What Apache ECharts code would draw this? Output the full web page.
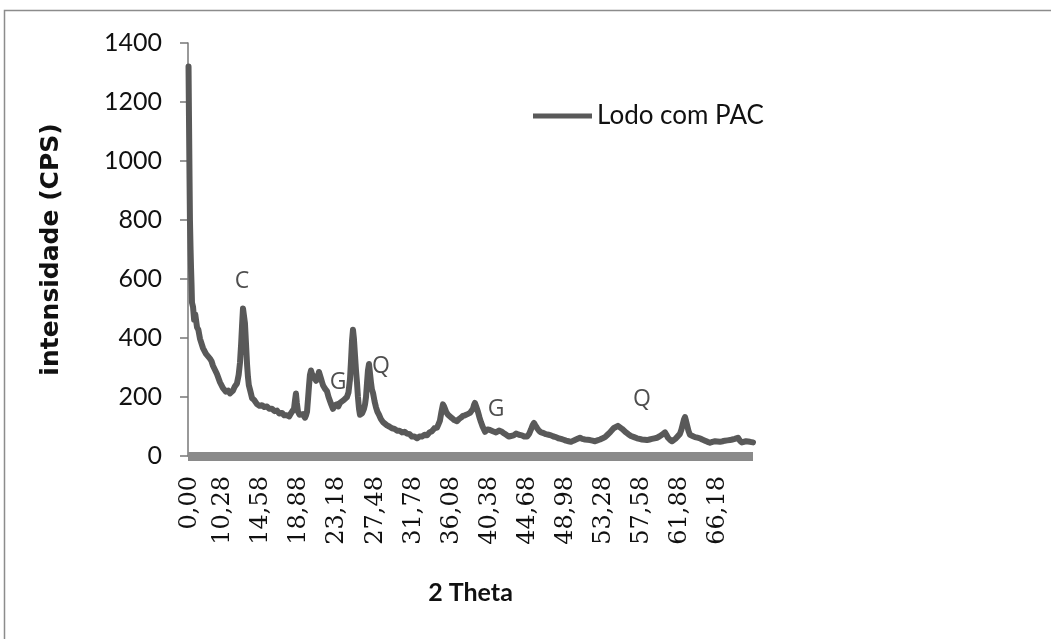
<!DOCTYPE html>
<html>
<head>
<meta charset="utf-8">
<script src="https://cdn.jsdelivr.net/npm/echarts@6/dist/echarts.min.js"></script>
<style>
  html, body { margin: 0; padding: 0; background: #ffffff; }
  #chart { width: 1051px; height: 639px; }
</style>
</head>
<body>
<div id="chart"></div>
<script>
// Diffractogram of the sludge sample (2θ in degrees, intensity in CPS)
const seriesName = 'Lodo com PAC';

const twoTheta = [
  6.39, 6.44, 6.50, 6.55, 6.62, 6.67, 6.73, 6.78, 6.90, 7.02, 7.15, 7.35, 7.50, 7.68, 7.85, 8.02,
  8.18, 8.36, 8.55, 8.81, 8.98, 9.15, 9.35, 9.60, 9.78, 9.94, 10.10, 10.28, 10.45, 10.62, 10.85, 11.07,
  11.25, 11.41, 11.62, 11.86, 12.05, 12.20, 12.33, 12.43, 12.54, 12.65, 12.76, 12.88, 13.00, 13.10, 13.20, 13.33,
  13.45, 13.56, 13.80, 14.12, 14.40, 14.68, 14.95, 15.25, 15.50, 15.81, 16.10, 16.38, 16.65, 16.94, 17.20, 17.51,
  17.75, 17.96, 18.15, 18.30, 18.42, 18.52, 18.62, 18.75, 18.92, 19.09, 19.30, 19.54, 19.66, 19.77, 19.90, 20.00,
  20.10, 20.22, 20.33, 20.44, 20.55, 20.67, 20.80, 20.90, 21.00, 21.12, 21.22, 21.35, 21.47, 21.57, 21.80, 22.02,
  22.20, 22.36, 22.50, 22.70, 22.90, 23.15, 23.30, 23.49, 23.70, 23.94, 24.10, 24.28, 24.45, 24.62, 24.75, 24.85,
  24.96, 25.06, 25.19, 25.30, 25.41, 25.52, 25.64, 25.75, 25.86, 26.00, 26.20, 26.32, 26.43, 26.55, 26.65, 26.77,
  26.88, 26.99, 27.10, 27.22, 27.40, 27.56, 27.72, 27.90, 28.10, 28.35, 28.55, 28.80, 29.05, 29.36, 29.65, 29.93,
  30.20, 30.49, 30.78, 31.06, 31.35, 31.62, 31.90, 32.19, 32.45, 32.75, 33.05, 33.32, 33.60, 33.88, 34.15, 34.45,
  34.62, 34.78, 34.95, 35.12, 35.25, 35.35, 35.50, 35.69, 35.90, 36.14, 36.40, 36.70, 36.92, 37.15, 37.38, 37.61,
  37.90, 38.17, 38.35, 38.51, 38.62, 38.73, 38.90, 39.07, 39.25, 39.41, 39.62, 39.87, 40.15, 40.43, 40.75, 41.11,
  41.45, 41.79, 42.05, 42.35, 42.58, 42.80, 43.10, 43.37, 43.70, 44.04, 44.30, 44.61, 44.85, 45.06, 45.25, 45.40,
  45.55, 45.74, 45.95, 46.19, 46.45, 46.75, 47.05, 47.32, 47.60, 47.88, 48.15, 48.45, 48.75, 49.01, 49.30, 49.58,
  49.85, 50.14, 50.35, 50.59, 50.85, 51.16, 51.45, 51.72, 52.00, 52.29, 52.55, 52.85, 53.15, 53.42, 53.70, 53.98,
  54.20, 54.43, 54.65, 54.88, 55.10, 55.34, 55.55, 55.79, 56.05, 56.35, 56.70, 57.03, 57.30, 57.59, 57.90, 58.16,
  58.45, 58.72, 59.00, 59.29, 59.55, 59.85, 60.05, 60.19, 60.35, 60.53, 60.75, 60.98, 61.20, 61.43, 61.65, 61.88,
  62.05, 62.22, 62.35, 62.45, 62.56, 62.68, 62.85, 63.01, 63.30, 63.58, 63.85, 64.14, 64.40, 64.71, 65.00, 65.27,
  65.55, 65.84, 66.10, 66.40, 66.70, 66.96, 67.25, 67.53, 67.80, 68.09, 68.25, 68.43, 68.65, 68.88, 69.10, 69.34,
  69.55, 69.79, 70.00, 70.13
];

const intensity = [
  1320, 1150, 950, 800, 700, 640, 580, 520, 505, 462, 480, 436, 428, 398, 396, 366,
  366, 346, 352, 330, 322, 306, 300, 278, 272, 250, 250, 230, 232, 218, 222, 212,
  218, 222, 236, 246, 275, 316, 380, 440, 500, 505, 450, 380, 310, 268, 240, 225,
  210, 196, 190, 176, 170, 172, 166, 168, 160, 160, 152, 154, 144, 146, 138, 138,
  134, 145, 150, 160, 190, 212, 180, 150, 140, 135, 142, 130, 138, 150, 200, 240,
  275, 290, 278, 282, 268, 272, 255, 250, 268, 285, 275, 262, 250, 240, 228, 220,
  200, 195, 175, 160, 172, 175, 168, 180, 185, 190, 184, 200, 215, 260, 330, 390,
  428, 400, 340, 290, 250, 200, 160, 140, 135, 145, 160, 175, 200, 250, 290, 312,
  280, 250, 225, 214, 185, 165, 150, 140, 126, 115, 110, 104, 100, 94, 92, 86,
  86, 80, 82, 76, 74, 66, 66, 60, 66, 66, 72, 70, 80, 84, 94, 96,
  108, 120, 150, 175, 168, 160, 148, 140, 135, 128, 122, 118, 125, 130, 136, 138,
  142, 146, 152, 160, 172, 180, 165, 150, 130, 115, 98, 82, 90, 88, 84, 80,
  86, 82, 76, 70, 66, 62, 70, 76, 72, 70, 66, 66, 75, 90, 105, 112,
  104, 95, 86, 80, 78, 74, 72, 70, 66, 64, 60, 58, 55, 52, 50, 48,
  52, 56, 60, 62, 58, 56, 55, 54, 52, 50, 53, 56, 60, 64, 72, 80,
  88, 95, 100, 102, 98, 92, 86, 80, 74, 68, 64, 60, 58, 56, 55, 54,
  56, 58, 60, 62, 66, 72, 76, 80, 72, 62, 55, 50, 55, 60, 66, 75,
  90, 110, 125, 132, 120, 105, 85, 72, 68, 64, 62, 60, 56, 52, 48, 45,
  48, 50, 49, 48, 50, 52, 53, 54, 56, 58, 60, 62, 52, 46, 48, 50,
  47, 48, 47, 46
];

// Category-style tick labels printed along the 2θ axis
const tickLabels = ['0,00', '10,28', '14,58', '18,88', '23,18', '27,48', '31,78', '36,08',
  '40,38', '44,68', '48,98', '53,28', '57,58', '61,88', '66,18'];
const tickPositions = [6.55, 10.28, 14.58, 18.88, 23.18, 27.48, 31.78, 36.08,
  40.38, 44.68, 48.98, 53.28, 57.58, 61.88, 66.18];

// Phase markers: [2θ, intensity, letter]
const phaseMarks = [
  [12.43, 590, 'C'],
  [23.27, 251, 'G'],
  [28.12, 305, 'Q'],
  [41.11, 159, 'G'],
  [57.59, 193, 'Q']
];

const xMin = 6.33;
const xMax = 70.13;

const chart = echarts.init(document.getElementById('chart'), null, { renderer: 'canvas' });

const option = {
  backgroundColor: '#ffffff',
  animation: false,
  graphic: [{
    type: 'rect',
    silent: true,
    shape: { x: 4.5, y: 10.5, width: 1100, height: 700 },
    style: { fill: 'none', stroke: '#8c8c8c', lineWidth: 1.5 }
  }],
  grid: { left: 188, right: 298, top: 43, bottom: 183, containLabel: false },
  legend: {
    data: [seriesName],
    left: 533,
    top: 103,
    padding: 0,
    icon: 'rect',
    itemWidth: 59,
    itemHeight: 5,
    textStyle: { fontFamily: 'Lato', fontSize: 26, color: '#111111' }
  },
  xAxis: {
    type: 'value',
    min: xMin,
    max: xMax,
    offset: 4,
    name: '2 Theta',
    nameLocation: 'middle',
    nameGap: 120,
    nameTextStyle: { fontFamily: 'Lato', fontWeight: 'bold', fontSize: 25, color: '#111111' },
    axisLine: { show: true, lineStyle: { color: '#8a8a8a', width: 9, cap: 'butt' } },
    axisTick: { show: false },
    splitLine: { show: false },
    axisLabel: {
      customValues: tickPositions,
      rotate: 90,
      margin: 16,
      fontFamily: 'DejaVu Serif',
      fontSize: 24,
      color: '#111111',
      formatter: function (v) {
        let best = 0;
        for (let i = 1; i < tickPositions.length; i++) {
          if (Math.abs(tickPositions[i] - v) < Math.abs(tickPositions[best] - v)) best = i;
        }
        return tickLabels[best];
      }
    }
  },
  yAxis: {
    type: 'value',
    min: 0,
    max: 1400,
    interval: 200,
    name: 'intensidade (CPS)',
    nameLocation: 'middle',
    nameGap: 124,
    nameRotate: 90,
    nameTextStyle: { fontFamily: 'DejaVu Sans', fontWeight: 'bold', fontSize: 25, color: '#111111' },
    axisLine: { show: true, lineStyle: { color: '#777777', width: 1.5 } },
    axisTick: { show: true, inside: false, length: 8, lineStyle: { color: '#777777', width: 1.5 } },
    splitLine: { show: false },
    axisLabel: {
      margin: 26,
      fontFamily: 'Lato',
      fontSize: 25,
      color: '#111111',
      formatter: (v) => String(v)
    }
  },
  series: [
    {
      name: seriesName,
      type: 'line',
      data: twoTheta.map((t, i) => [t, intensity[i]]),
      showSymbol: false,
      symbol: 'none',
      color: '#595959',
      lineStyle: { color: '#595959', width: 6, join: 'round', cap: 'round' },
      silent: true,
      z: 3
    },
    {
      name: 'marks',
      type: 'scatter',
      data: phaseMarks,
      symbolSize: 0,
      silent: true,
      label: {
        show: true,
        position: 'inside',
        formatter: (p) => p.data[2],
        fontFamily: 'Open Sans',
        fontSize: 23,
        color: '#222222'
      },
      z: 4
    }
  ]
};

chart.setOption(option);
</script>
</body>
</html>
